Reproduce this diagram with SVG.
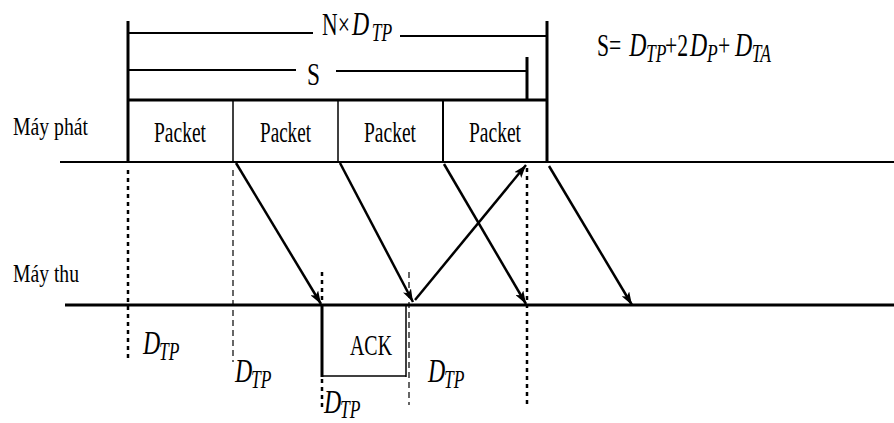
<svg xmlns="http://www.w3.org/2000/svg" width="894" height="423" viewBox="0 0 894 423">
<style>
  text { font-family: "Liberation Serif", "DejaVu Serif", serif; fill: #000; }
  .lbl { font-size: 26px; }
  .pk { font-size: 29px; }
  .up { font-size: 31px; }
  .mi { font-size: 34px; font-style: italic; }
  .sb { font-size: 25px; font-style: italic; }
  .ln { stroke: #000; fill: none; stroke-linecap: butt; }
  .thick { stroke-width: 3; }
  .mid { stroke-width: 2; }
  .thin { stroke-width: 1.5; }
  .dot { stroke: #000; stroke-width: 2.5; stroke-dasharray: 4 4; fill: none; }
  .dash { stroke: #000; stroke-width: 1.2; stroke-dasharray: 6 4; fill: none; }
  .arr { stroke: #000; stroke-width: 2.5; fill: none; marker-end: url(#ah); }
</style>
<defs>
  <marker id="ah" markerUnits="userSpaceOnUse" markerWidth="14" markerHeight="9" refX="13" refY="4.5" orient="auto">
    <path d="M0,0 L13,4.5 L0,9 L3,4.5 z" fill="#000"/>
  </marker>
</defs>
<rect width="894" height="423" fill="#fff"/>

<g id="dimensions">
  <line class="ln thick" x1="128" y1="21" x2="128" y2="163"/>
  <line class="ln thick" x1="547" y1="21" x2="547" y2="163"/>
  <line class="ln mid" x1="128" y1="33" x2="313" y2="33"/>
  <line class="ln mid" x1="400" y1="36" x2="547" y2="36"/>
  <line class="ln mid" x1="128" y1="70" x2="296" y2="70"/>
  <line class="ln mid" x1="336" y1="71" x2="527" y2="71"/>
  <line class="ln thick" x1="527" y1="57" x2="527" y2="100"/>
  <text transform="translate(322,35) scale(0.7,1)"><tspan class="up" x="0" y="0">N×</tspan><tspan class="mi" x="43" y="0">D</tspan><tspan class="sb" x="71" y="6">TP</tspan></text>
  <text class="up" x="307" y="85" textLength="13" lengthAdjust="spacingAndGlyphs">S</text>
</g>

<g id="formula">
  <text transform="translate(597,56) scale(0.7,1)"><tspan class="up" x="0" y="0">S=</tspan><tspan class="mi" x="46" y="0">D</tspan><tspan class="sb" x="70" y="6">TP</tspan><tspan class="up" x="97" y="0">+2</tspan><tspan class="mi" x="133" y="0">D</tspan><tspan class="sb" x="157" y="6">P</tspan><tspan class="up" x="173" y="0">+</tspan><tspan class="mi" x="197" y="0">D</tspan><tspan class="sb" x="221" y="6">TA</tspan></text>
</g>

<g id="sender">
  <text class="lbl" x="13" y="135" textLength="75" lengthAdjust="spacingAndGlyphs">Máy phát</text>
  <line class="ln mid" x1="60" y1="162" x2="894" y2="162"/>
  <line class="ln thick" x1="128" y1="100" x2="547" y2="100"/>
</g>

<g id="packet1">
  <text class="pk" x="154" y="142" textLength="52" lengthAdjust="spacingAndGlyphs">Packet</text>
</g>
<g id="packet2">
  <line class="ln thin" x1="233" y1="100" x2="233" y2="163"/>
  <text class="pk" x="260" y="142" textLength="51" lengthAdjust="spacingAndGlyphs">Packet</text>
</g>
<g id="packet3">
  <line class="ln thin" x1="338" y1="100" x2="338" y2="163"/>
  <text class="pk" x="364" y="142" textLength="52" lengthAdjust="spacingAndGlyphs">Packet</text>
</g>
<g id="packet4">
  <line class="ln mid" x1="443" y1="100" x2="443" y2="163"/>
  <text class="pk" x="469" y="142" textLength="52" lengthAdjust="spacingAndGlyphs">Packet</text>
</g>

<g id="receiver">
  <text class="lbl" x="13" y="282" textLength="66" lengthAdjust="spacingAndGlyphs">Máy thu</text>
  <line class="ln thick" x1="65" y1="305" x2="894" y2="305"/>
</g>

<g id="ack">
  <line class="ln thick" x1="322" y1="305" x2="322" y2="377"/>
  <line class="ln thin" x1="322" y1="376" x2="406" y2="376"/>
  <line class="ln thin" x1="406" y1="305" x2="406" y2="377"/>
  <text class="pk" x="350" y="355" textLength="42" lengthAdjust="spacingAndGlyphs">ACK</text>
</g>

<g id="guides">
  <line class="dot" x1="128" y1="170" x2="128" y2="362"/>
  <line class="dash" x1="233" y1="170" x2="233" y2="362"/>
  <line class="dot" x1="322" y1="272" x2="322" y2="305"/>
  <line class="dot" x1="322" y1="379" x2="322" y2="407"/>
  <line class="dash" x1="409" y1="272" x2="409" y2="405"/>
  <line class="dot" x1="527" y1="168" x2="527" y2="405"/>
</g>

<g id="delays">
  <text transform="translate(143,354) scale(0.7,1)"><tspan class="mi" x="0" y="0">D</tspan><tspan class="sb" x="23" y="6">TP</tspan></text>
  <text transform="translate(235,382) scale(0.7,1)"><tspan class="mi" x="0" y="0">D</tspan><tspan class="sb" x="23" y="6">TP</tspan></text>
  <text transform="translate(324,413) scale(0.7,1)"><tspan class="mi" x="0" y="0">D</tspan><tspan class="sb" x="23" y="5">TP</tspan></text>
  <text transform="translate(428,382) scale(0.7,1)"><tspan class="mi" x="0" y="0">D</tspan><tspan class="sb" x="23" y="6">TP</tspan></text>
</g>

<g id="connectors">
  <line class="arr" x1="236" y1="163" x2="321" y2="304"/>
  <line class="arr" x1="340" y1="163" x2="413" y2="302"/>
  <line class="arr" x1="444" y1="164" x2="526" y2="304"/>
  <line class="arr" x1="549" y1="166" x2="632" y2="305"/>
  <line class="arr" x1="415" y1="300" x2="526" y2="165"/>
</g>
</svg>
